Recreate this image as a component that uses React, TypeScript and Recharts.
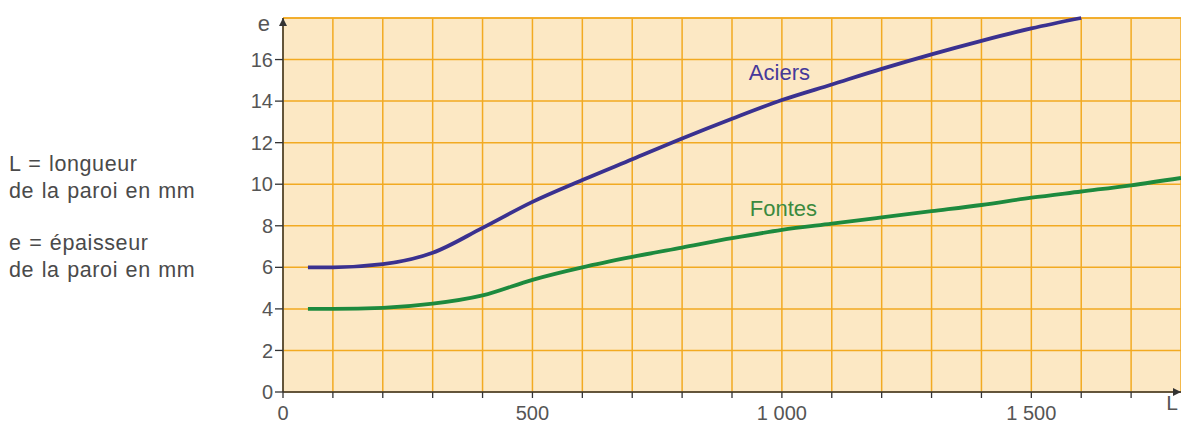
import React from 'react';
import {
  LineChart,
  Line,
  XAxis,
  YAxis,
  CartesianGrid,
  ReferenceLine,
  ReferenceDot,
  Label,
} from 'recharts';

// L = longueur de la paroi (mm)
const lengths = [50, 100, 200, 300, 400, 500, 600, 700, 800, 900, 1000, 1100, 1200, 1300, 1400, 1500, 1600, 1700, 1800];
// e = épaisseur de la paroi (mm)
const aciers = [6.0, 6.0, 6.15, 6.7, 7.9, 9.15, 10.2, 11.2, 12.2, 13.15, 14.05, 14.8, 15.55, 16.25, 16.9, 17.5, 18.0, null, null];
const fontes = [4.0, 4.0, 4.05, 4.25, 4.65, 5.4, 6.0, 6.5, 6.95, 7.4, 7.8, 8.1, 8.4, 8.7, 9.0, 9.35, 9.65, 9.95, 10.3];

const xTicks = [0, 100, 200, 300, 400, 500, 600, 700, 800, 900, 1000, 1100, 1200, 1300, 1400, 1500, 1600, 1700];
const xTickLabels: Record<number, string> = { 0: '0', 500: '500', 1000: '1 000', 1500: '1 500' };
const yTicks = [0, 2, 4, 6, 8, 10, 12, 14, 16];

const legendLines = ['L = longueur', 'de la paroi en mm', 'e = épaisseur', 'de la paroi en mm'];

const data = lengths.map((L, i) => ({ L, aciers: aciers[i], fontes: fontes[i] }));

const FONT = '"Liberation Sans", Arial, Helvetica, sans-serif';
const GRID = '#f2aa22';
const AXIS = '#333333';

const App: React.FC = () => {
  return (
    <div style={{ position: 'absolute', left: 0, top: 0, width: 1181, height: 425, background: '#fff' }}>
      <svg width={0} height={0} style={{ position: 'absolute' }}>
        <defs>
          <marker
            id="arrow"
            viewBox="0 0 10 10"
            refX={10}
            refY={5}
            markerWidth={11}
            markerHeight={8}
            markerUnits="userSpaceOnUse"
            orient="auto-start-reverse"
          >
            <path d="M0,0 L10,5 L0,10 z" fill={AXIS} />
          </marker>
        </defs>
      </svg>

      <svg width={240} height={425} style={{ position: 'absolute', left: 0, top: 0 }}>
        {legendLines.map((t, i) => (
          <text
            key={i}
            x={9}
            y={[171, 198, 250, 277][i]}
            fontSize={21.5}
            fontFamily={FONT}
            fill="#4a4a4a"
            letterSpacing={0.6}
            wordSpacing={1}
          >
            {t}
          </text>
        ))}
      </svg>

      <LineChart
        width={1181}
        height={425}
        data={data}
        margin={{ top: 18, right: 0, bottom: 0, left: 243 }}
        style={{ position: 'absolute', left: 0, top: 0 }}
      >
        <CartesianGrid stroke={GRID} strokeWidth={1.5} fill="#fce8c4" fillOpacity={1} />
        <ReferenceLine y={18} stroke={GRID} strokeWidth={1.5} />
        <XAxis
          dataKey="L"
          type="number"
          domain={[0, 1800]}
          ticks={xTicks}
          interval={0}
          height={33}
          tickSize={6}
          tickMargin={8}
          tickFormatter={(v: number) => xTickLabels[v] ?? ''}
          tick={{ fill: '#555', fontSize: 20, fontFamily: FONT }}
          tickLine={{ stroke: AXIS, strokeWidth: 1.3 }}
          axisLine={{ stroke: AXIS, strokeWidth: 1.5, markerEnd: 'url(#arrow)' }}
        >
          <Label
            content={(p: any) => {
              const vb = p.viewBox || { x: 0, y: 0, width: 0, height: 0 };
              return (
                <text x={vb.x + vb.width - 3} y={vb.y + 18} textAnchor="end" fontSize={21} fontFamily={FONT} fill="#555">
                  L
                </text>
              );
            }}
          />
        </XAxis>
        <YAxis
          type="number"
          domain={[0, 18]}
          ticks={yTicks}
          interval={0}
          width={40}
          tickSize={8}
          tickMargin={2}
          tick={{ fill: '#555', fontSize: 20, fontFamily: FONT }}
          tickLine={{ stroke: AXIS, strokeWidth: 1.3 }}
          axisLine={{ stroke: AXIS, strokeWidth: 1.5, markerStart: 'url(#arrow)' }}
        >
          <Label
            content={(p: any) => {
              const vb = p.viewBox || { x: 0, y: 0, width: 0, height: 0 };
              return (
                <text x={vb.x + vb.width - 13} y={vb.y + 13} textAnchor="end" fontSize={22} fontFamily={FONT} fill="#555">
                  e
                </text>
              );
            }}
          />
        </YAxis>
        <Line
          type="monotone"
          dataKey="aciers"
          stroke="#3a3190"
          strokeWidth={3.8}
          dot={false}
          activeDot={false}
          isAnimationActive={false}
        />
        <Line
          type="monotone"
          dataKey="fontes"
          stroke="#1d8a3e"
          strokeWidth={3.8}
          dot={false}
          activeDot={false}
          isAnimationActive={false}
        />
        <ReferenceDot
          x={995}
          y={15.4}
          r={0}
          fill="none"
          stroke="none"
          label={{ value: 'Aciers', position: 'center', fill: '#45399a', fontSize: 22, fontFamily: FONT }}
        />
        <ReferenceDot
          x={1003}
          y={8.85}
          r={0}
          fill="none"
          stroke="none"
          label={{ value: 'Fontes', position: 'center', fill: '#3b8a3e', fontSize: 22, fontFamily: FONT }}
        />
      </LineChart>
    </div>
  );
};

export default App;
